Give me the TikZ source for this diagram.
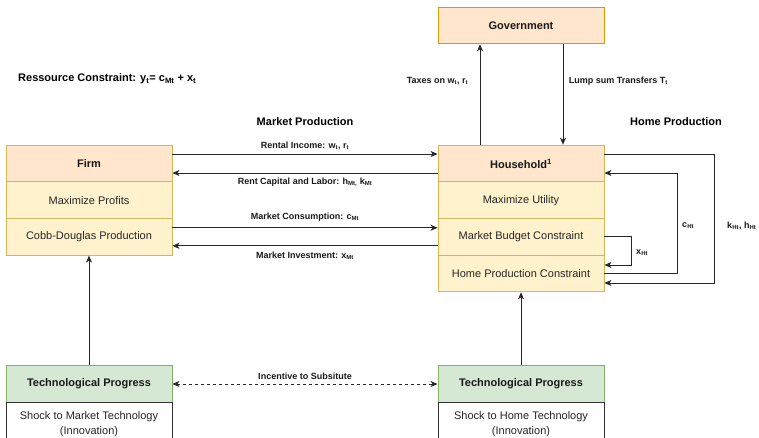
\documentclass[tikz,border=0pt]{standalone}
\usepackage{fontspec}
\setmainfont{Liberation Sans}
\usetikzlibrary{arrows.meta}
\definecolor{hdr}{HTML}{FFE6CC}
\definecolor{hdrline}{HTML}{D79B00}
\definecolor{rowc}{HTML}{FFF2CC}
\definecolor{rowline}{HTML}{D6B656}
\definecolor{grn}{HTML}{D5E8D4}
\definecolor{grnline}{HTML}{82B366}
\begin{document}
\begin{tikzpicture}[x=1pt,y=-1pt,
  font=\fontsize{11}{13}\selectfont,
  box/.style={minimum width=166pt, minimum height=36.7pt, inner sep=0pt, draw, line width=0.9pt, text=black!85},
  hdrbox/.style={box, fill=hdr, draw=rowline, font=\fontsize{11}{13}\selectfont\bfseries, text=black!90},
  govbox/.style={box, fill=hdr, draw=hdrline, font=\fontsize{11}{13}\selectfont\bfseries, text=black!90},
  rowbox/.style={box, fill=rowc, draw=rowline},
  grnbox/.style={box, fill=grn, draw=grnline, font=\fontsize{11}{13}\selectfont\bfseries, text=black!90},
  whitebox/.style={box, fill=white, draw=black!80, minimum height=45pt, align=center, font=\fontsize{11}{15}\selectfont},
  arr/.style={draw=black!85, line width=0.9pt, -{Stealth[length=7pt,width=6pt,inset=2pt]}},
  lbl/.style={font=\fontsize{9}{10}\selectfont\bfseries, text=black!90},
  title/.style={font=\fontsize{11}{13}\selectfont\bfseries, text=black}
]
\useasboundingbox (0,0) rectangle (759,438);
\clip (0,0) rectangle (759,438);

% Government
\node[govbox] (gov) at (521,25.5) {Government};

% Firm
\node[hdrbox] (firmh) at (89,163.5) {Firm};
\node[rowbox] (fmax) at (89,200.2) {Maximize Profits};
\node[rowbox] (fcobb) at (89,236.8) {Cobb-Douglas Production};

% Household
\node[hdrbox] (hh) at (521,163.5) {Household\textsuperscript{1}};
\node[rowbox] (hmax) at (521,200.2) {Maximize Utility};
\node[rowbox] (hbud) at (521,236.8) {Market Budget Constraint};
\node[rowbox] (hhome) at (521,273.5) {Home Production Constraint};

% Technology
\node[grnbox] (tl) at (89,384) {Technological Progress};
\node[whitebox] (sl) at (89,424.5) {Shock to Market Technology\\(Innovation)};
\node[grnbox] (tr) at (521,384) {Technological Progress};
\node[whitebox] (sr) at (521,424.5) {Shock to Home Technology\\(Innovation)};

% Titles
\node[title, anchor=west, inner sep=0pt] (rc) at (18,79) {Ressource Constraint: y\textsubscript{t}= c\textsubscript{Mt} + x\textsubscript{t}};
\node[title] (mp) at (305,122) {Market Production};
\node[title] (hp) at (676,122) {Home Production};

% Firm <-> Household
\draw[arr] ([yshift=9.5pt]firmh.east) -- node[lbl, above=0.5pt] {Rental Income: w\textsubscript{t}, r\textsubscript{t}} ([yshift=9.5pt]hh.west);
\draw[arr] ([yshift=-9.5pt]hh.west) -- node[lbl, below=1pt] {Rent Capital and Labor: h\textsubscript{Mt,} k\textsubscript{Mt}} ([yshift=-9.5pt]firmh.east);
\draw[arr] ([yshift=9pt]fcobb.east) -- node[lbl, above=3pt] {Market Consumption: c\textsubscript{Mt}} ([yshift=9pt]hbud.west);
\draw[arr] ([yshift=-9pt]hbud.west) -- node[lbl, below=2.5pt] {Market Investment: x\textsubscript{Mt}} ([yshift=-9pt]fcobb.east);

% Government
\draw[arr] ([xshift=-41pt]hh.north) -- node[lbl, pos=0.63, anchor=east, xshift=-8pt] {Taxes on w\textsubscript{t}, r\textsubscript{t}} ([xshift=-41pt]gov.south);
\draw[arr] ([xshift=42pt]gov.south) -- node[lbl, pos=0.37, anchor=west, xshift=2pt] {Lump sum Transfers T\textsubscript{t}} ([xshift=42pt]hh.north);

% Home production loops
\draw[arr] ([yshift=9.5pt]hh.east) -- ++(110,0) |- node[lbl, pos=0.28, right=9pt] {k\textsubscript{Ht}, h\textsubscript{Ht}} ([yshift=-9.5pt]hhome.east);
\draw[arr] (hhome.east) -- ++(73,0) |- node[lbl, pos=0.24, right=1pt] {c\textsubscript{Ht}} ([yshift=-9.5pt]hh.east);
\draw[arr] (hbud.east) -- ++(27,0) |- node[lbl, pos=0.28, right=1pt] {x\textsubscript{Ht}} ([yshift=8.5pt]hhome.east);

% Technology
\draw[arr] (tl.north) -- (fcobb.south);
\draw[arr] (tr.north) -- (hhome.south);
\draw[arr, dashed, {Stealth[length=7pt,width=6pt,inset=2pt]}-{Stealth[length=7pt,width=6pt,inset=2pt]}] (tl.east) -- node[lbl, above=1pt] {Incentive to Subsitute} (tr.west);
\end{tikzpicture}
\end{document}
